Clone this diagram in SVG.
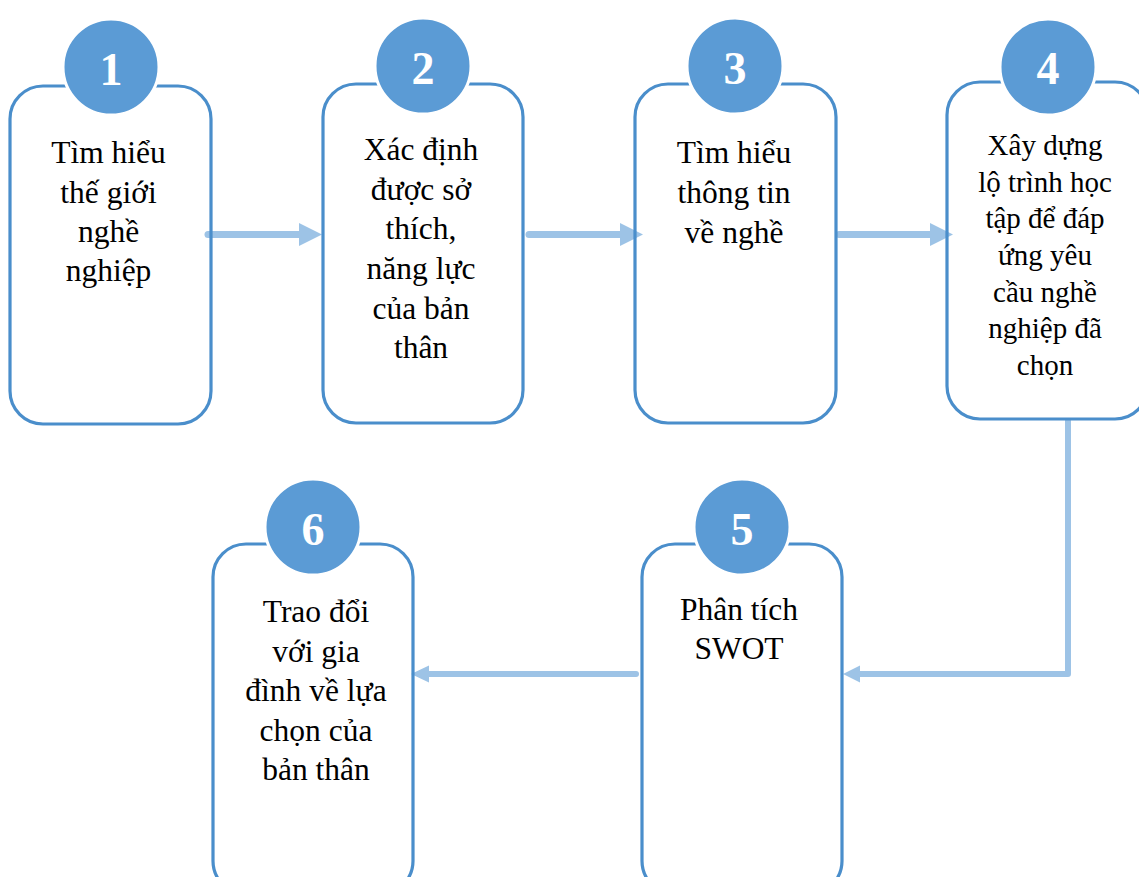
<svg xmlns="http://www.w3.org/2000/svg" width="1139" height="877" viewBox="0 0 1139 877">
  <style>
    .box { fill: none; stroke: #4a8ecb; stroke-width: 3.2; }
    .badge { fill: #5b9bd5; stroke: #ffffff; stroke-width: 3; }
    .num { font-family: "Liberation Serif", "Times New Roman", serif; font-weight: bold; font-size: 46px; fill: #ffffff; text-anchor: middle; }
    .lbl { font-family: "Liberation Serif", "Times New Roman", serif; font-size: 31.5px; fill: #000000; text-anchor: middle; }
    .lbl-s { font-size: 29px; }
    .link { fill: none; stroke: #9dc3e6; stroke-linecap: round; stroke-linejoin: round; }
    .head { fill: #9dc3e6; }
  </style>
  <rect width="1139" height="877" fill="#ffffff"/>

  <!-- connectors -->
  <g id="connectors">
    <path class="link" d="M208,234.5 H302" stroke-width="7"/>
    <polygon class="head" points="299,223 322,234.5 299,246"/>
    <path class="link" d="M529,234.5 H622" stroke-width="7"/>
    <polygon class="head" points="620,223 643,234.5 620,246"/>
    <path class="link" d="M839,234.5 H932" stroke-width="7"/>
    <polygon class="head" points="930,223 953,234.5 930,246"/>
    <path class="link" d="M1068,421 V674 H860" stroke-width="6"/>
    <polygon class="head" points="860,665.5 843,674 860,682.5"/>
    <path class="link" d="M636,674 H428" stroke-width="6"/>
    <polygon class="head" points="429,665.5 411,674 429,682.5"/>
  </g>

  <!-- step 1 -->
  <g id="step1">
    <rect class="box" x="10" y="86" width="201" height="338" rx="33" ry="33"/>
    <circle class="badge" cx="111" cy="67" r="48"/>
    <text class="num" x="111" y="85">1</text>
    <text class="lbl" x="108.5" y="163">Tìm hiểu</text>
    <text class="lbl" x="108.5" y="203">thế giới</text>
    <text class="lbl" x="108.5" y="242">nghề</text>
    <text class="lbl" x="108.5" y="281">nghiệp</text>
  </g>

  <!-- step 2 -->
  <g id="step2">
    <rect class="box" x="323" y="84" width="200" height="339" rx="33" ry="33"/>
    <circle class="badge" cx="423" cy="66" r="48"/>
    <text class="num" x="423" y="84">2</text>
    <text class="lbl" x="421" y="160">Xác định</text>
    <text class="lbl" x="421" y="200">được sở</text>
    <text class="lbl" x="421" y="239">thích,</text>
    <text class="lbl" x="421" y="279">năng lực</text>
    <text class="lbl" x="421" y="319">của bản</text>
    <text class="lbl" x="421" y="358">thân</text>
  </g>

  <!-- step 3 -->
  <g id="step3">
    <rect class="box" x="635" y="84" width="201" height="339" rx="33" ry="33"/>
    <circle class="badge" cx="735" cy="66" r="48"/>
    <text class="num" x="735" y="84">3</text>
    <text class="lbl" x="734" y="163">Tìm hiểu</text>
    <text class="lbl" x="734" y="203">thông tin</text>
    <text class="lbl" x="734" y="243">về nghề</text>
  </g>

  <!-- step 4 -->
  <g id="step4">
    <rect class="box" x="947" y="82" width="201" height="337" rx="33" ry="33"/>
    <circle class="badge" cx="1048" cy="67" r="48"/>
    <text class="num" x="1048" y="84">4</text>
    <text class="lbl lbl-s" x="1045" y="155">Xây dựng</text>
    <text class="lbl lbl-s" x="1045" y="192">lộ trình học</text>
    <text class="lbl lbl-s" x="1045" y="228">tập để đáp</text>
    <text class="lbl lbl-s" x="1045" y="265">ứng yêu</text>
    <text class="lbl lbl-s" x="1045" y="302">cầu nghề</text>
    <text class="lbl lbl-s" x="1045" y="338">nghiệp đã</text>
    <text class="lbl lbl-s" x="1045" y="375">chọn</text>
  </g>

  <!-- step 5 -->
  <g id="step5">
    <rect class="box" x="642" y="544" width="200" height="350" rx="33" ry="33"/>
    <circle class="badge" cx="742" cy="527" r="48"/>
    <text class="num" x="742" y="545">5</text>
    <text class="lbl" x="739" y="620">Phân tích</text>
    <text class="lbl" x="739" y="659">SWOT</text>
  </g>

  <!-- step 6 -->
  <g id="step6">
    <rect class="box" x="213" y="544" width="200" height="350" rx="33" ry="33"/>
    <circle class="badge" cx="313" cy="527" r="48"/>
    <text class="num" x="313" y="545">6</text>
    <text class="lbl" x="316" y="622">Trao đổi</text>
    <text class="lbl" x="316" y="662">với gia</text>
    <text class="lbl" x="316" y="701">đình về lựa</text>
    <text class="lbl" x="316" y="741">chọn của</text>
    <text class="lbl" x="316" y="780">bản thân</text>
  </g>
</svg>
